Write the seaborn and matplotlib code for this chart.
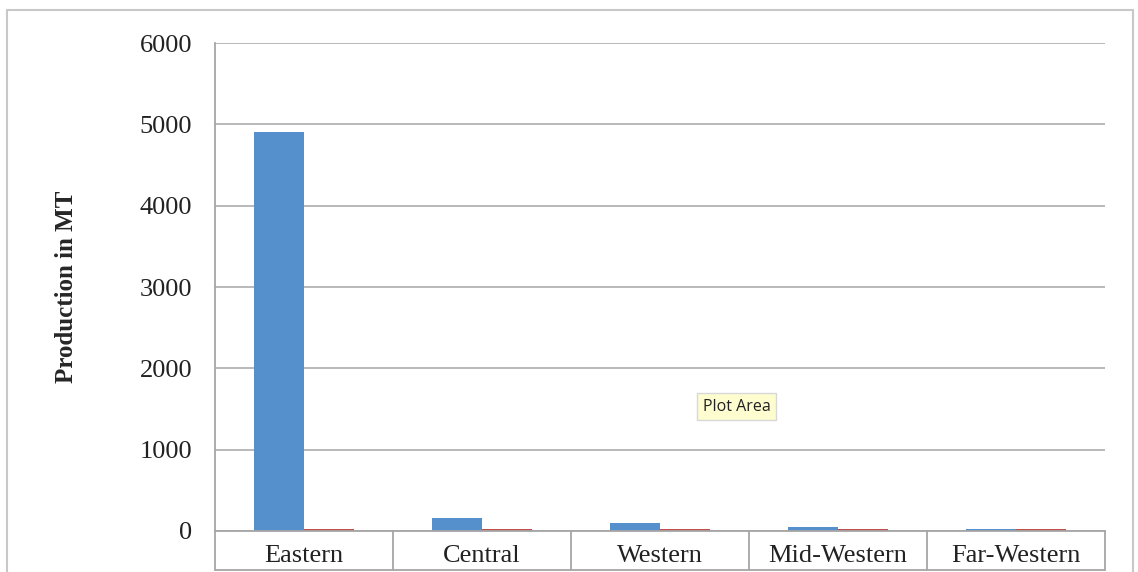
import pandas as pd
import seaborn as sns
import matplotlib.pyplot as plt
from matplotlib.patches import Rectangle

regions = ['Eastern', 'Central', 'Western', 'Mid-Western', 'Far-Western']
production = [4900, 160, 100, 45, 20]
second_series = [20, 20, 20, 20, 20]

df = pd.DataFrame({
    'Region': regions * 2,
    'Value': production + second_series,
    'Series': ['Production'] * 5 + ['Other'] * 5,
})

sns.set_theme(style='white')
plt.rcParams['font.family'] = ['Liberation Serif', 'DejaVu Serif']

fig = plt.figure(figsize=(11.38, 5.72), dpi=100)
ax = fig.add_axes([0.1889, 0.0717, 0.782, 0.8531])

sns.barplot(data=df, x='Region', y='Value', hue='Series', palette=['#5590cc', '#c0504d'],
            width=0.56, saturation=1, legend=False, linewidth=0, ax=ax)

ax.set_ylim(0, 6000)
ax.set_yticks(range(0, 6001, 1000))
ax.set_xlim(-0.5, 4.5)
ax.yaxis.grid(True, color='#b3b3b3', linewidth=1.3)
ax.set_axisbelow(True)
for s in ['top', 'right']:
    ax.spines[s].set_visible(False)
ax.spines['left'].set_color('#a6a6a6')
ax.spines['left'].set_linewidth(1.3)
ax.spines['bottom'].set_color('#a6a6a6')
ax.spines['bottom'].set_linewidth(1.3)

ax.tick_params(axis='y', labelsize=19, pad=16.5, length=0, colors='#222222')
ax.tick_params(axis='x', labelsize=19, pad=10, length=0, colors='#222222')
ax.set_xlabel('')
ax.set_ylabel('Production in MT', fontsize=18, fontweight='bold', labelpad=44)

# category separators below the axis
trans = ax.get_xaxis_transform()
for i in range(5):
    ax.plot([i + 0.5, i + 0.5], [-0.08, 0], transform=trans, color='#a6a6a6',
            linewidth=1.3, clip_on=False)
ax.plot([-0.5, -0.5], [-0.08, 0], transform=trans, color='#a6a6a6', linewidth=1.3, clip_on=False)
ax.plot([-0.5, 4.5], [-0.08, -0.08], transform=trans, color='#a6a6a6', linewidth=1.3, clip_on=False)

# outer chart frame
fig.patches.append(Rectangle((0.0062, -0.01), 0.9895, 0.9925, transform=fig.transFigure,
                             fill=False, edgecolor='#c8c8c8', linewidth=1.5))

# tooltip
fig.text(0.6473, 0.289, 'Plot Area', fontsize=11.5, family=['Open Sans', 'DejaVu Sans'],
         color='#222222', ha='center', va='center',
         bbox=dict(boxstyle='square,pad=0.35', facecolor='#fdfdd0', edgecolor='#d8d8d8'))

fig.savefig('out.png', dpi=100)
